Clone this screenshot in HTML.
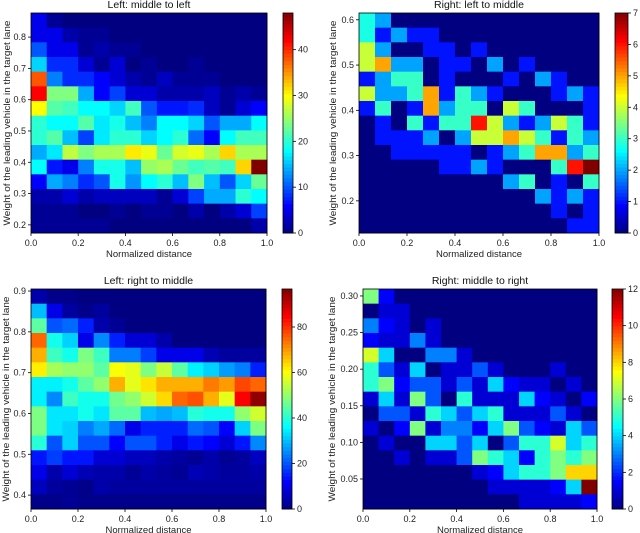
<!DOCTYPE html>
<html><head><meta charset="utf-8"><style>
body{margin:0;background:#fff;}
svg{display:block;font-family:"Liberation Sans",sans-serif;}
</style></head><body>
<svg id="fig" width="640" height="533"></svg>
<script>
const p1Values=[
[5,1,0,0,0,0,0,0,0,0,0,0,0,0,0],
[5,5,2,1,1,0,0,0,0,0,0,0,0,0,0],
[10,5,5,1,2,1,1,0,0,0,0,0,0,0,0],
[16,8,8,4,1,4,0,1,0,0,1,0,0,0,0],
[38,12,8,8,6,4,2,1,3,1,1,1,0,0,0],
[42,24,24,14,6,9,4,4,2,2,2,3,1,2,1],
[30,22,21,18,18,16,21,10,7,7,8,3,1,4,6],
[20,18,18,22,17,19,15,12,18,18,16,10,14,14,18],
[20,22,15,9,17,20,20,16,18,20,11,6,18,21,21],
[14,17,27,24,26,26,31,29,23,28,29,26,32,26,26],
[18,7,5,12,19,19,15,25,26,23,21,22,21,32,48],
[6,14,12,8,10,19,13,18,20,15,24,15,10,16,23],
[2,2,4,2,3,3,3,3,1,4,9,14,14,20,18],
[1,1,1,0,0,1,0,1,1,0,2,0,2,4,9],
[1,1,1,1,1,0,0,0,0,0,0,0,0,0,2]];
const p2Values=[
[2.8,2,0,0,0,0,0,0,0,0,0,0,0,0,0],
[2.8,1,2,1,1,0,0,0,0,0,0,0,0,0,0],
[4,2,0,0,1,1,0,1,0,0,0,0,0,0,0],
[4,5,2,2,0,1,1,0,2,0,1,0,0,0,0],
[1,2,3,3,0,1,0,0,0,1,0,2,1,0,0],
[4,2,2,3,5,1,3,2,1,0,0,0,1,2,1],
[1,3,0,1,5,2,3,3,0,4,3,0,0,0,1],
[0,1,0,3,1,3,3,6,4,2,1,2,4,3,1],
[0,1,1,1,2,0,2,4,4,5,4,3,1,3,2],
[0,0,1,1,1,1,1,0,1,2,3,5,5,2,3],
[0,0,0,0,0,1,1,2,1,0,0,0,3,6,7],
[0,0,0,0,0,0,0,0,0,2,3,0,1,0,3],
[0,0,0,0,0,0,0,0,0,0,0,2,1,2,1],
[0,0,0,0,0,0,0,0,0,0,0,0,1,0,1],
[0,0,0,0,0,0,0,0,0,0,0,0,0,1,1]];
const p3Values=[
[4,1,1,0,0,0,0,0,0,0,0,0,0,0,0],
[30,10,3,1,3,0,0,0,0,0,0,0,0,0,0],
[45,20,22,15,4,2,0,0,0,0,0,0,0,0,0],
[75,38,32,10,25,15,8,8,4,0,0,0,0,0,0],
[68,42,38,48,42,24,24,18,10,10,10,5,3,3,3],
[62,52,50,50,45,60,58,48,55,45,35,32,27,24,15],
[35,35,38,45,50,68,58,63,68,68,68,73,70,78,75],
[35,25,42,38,38,47,50,56,64,75,77,68,58,85,95],
[48,34,34,38,34,45,45,30,28,30,40,38,38,50,56],
[48,34,32,24,28,22,10,15,15,15,22,20,12,32,48],
[40,20,32,20,20,12,20,20,15,10,14,12,8,14,25],
[14,18,14,14,8,8,6,6,4,3,2,4,2,3,6],
[10,4,8,5,4,4,2,4,3,2,5,4,3,3,4],
[6,3,2,1,4,3,3,3,3,3,3,3,3,3,3],
[1,1,2,1,1,1,1,1,1,1,1,1,1,1,1]];
const p4Values=[
[6,1.5,0,0,0,0,0,0,0,0,0,0,0,0,0],
[0,1,1,0,0,0,0,0,0,0,0,0,0,0,0],
[3,1.5,1,0,1,0,0,0,0,0,0,0,0,0,0],
[1.5,1,1,3,1,0,0,0,0,0,0,0,0,0,0],
[7,4,0,0,3,3,1,0,0,0,0,0,0,0,0],
[5,2.5,1,4,0,1,1,2.5,1,0,0,0,1,0,0],
[5,6,1.5,2.5,2.5,1,2.5,1,4,1.5,1,1,0,1,0],
[1,4,1,6,2.5,0,5,1,1,1,4,1.5,1,0,1.5],
[0,2.5,2.5,1,5,4,2.5,4,5,1,1,1,2.5,1,0],
[1,0,1.5,6,1,3,3,1.5,4,6,2.5,1.5,1,4,2.5],
[0,1,0,0,4,4,2.5,4,0,2.5,5,5,7,4,5],
[0,0,1,0,1,1,2.5,6,5,4,1.5,5,6,5,6],
[0,0,0,0,0,0,0,1,1.5,4,5,5,6,8,8],
[0,0,0,0,0,0,0,0,1,1,1,1,1.5,4,12],
[0,0,0,0,0,0,0,0,0,0,1,1,1,1,1.5]];
const xTickLabels=["0.0","0.2","0.4","0.6","0.8","1.0"];
const p1YTicks=[0.2,0.3,0.4,0.5,0.6,0.7,0.8];
const p2YTicks=[0.2,0.3,0.4,0.5,0.6];
const p3YTicks=[0.4,0.5,0.6,0.7,0.8,0.9];
const p4YTicks=[0.05,0.10,0.15,0.20,0.25,0.30];
const p1CTicks=[0,10,20,30,40];
const p2CTicks=[0,1,2,3,4,5,6,7];
const p3CTicks=[0,20,40,60,80];
const p4CTicks=[0,2,4,6,8,10,12];

const NS="http://www.w3.org/2000/svg";
const svg=document.getElementById('fig');
function mk(tag,attrs,parent){const e=document.createElementNS(NS,tag);for(const k in attrs)e.setAttribute(k,attrs[k]);(parent||svg).appendChild(e);return e;}
function cl(v){return Math.max(0,Math.min(1,v));}
function jet(t){const r=cl(1.5-Math.abs(4*t-3)),g=cl(1.5-Math.abs(4*t-2)),b=cl(1.5-Math.abs(4*t-1));return `rgb(${Math.round(r*255)},${Math.round(g*255)},${Math.round(b*255)})`;}

const panels=[
{name:'left-middle-to-left',title:'Left: middle to left',vals:p1Values,yt:p1YTicks,ct:p1CTicks,x0:31,x1:267,y0:13,y1:233,ymin:0.174,ymax:0.877,cmax:48,cx:283,cw:10,dec:1,ty:8,lx:7},
{name:'right-left-to-middle',title:'Right: left to middle',vals:p2Values,yt:p2YTicks,ct:p2CTicks,x0:359,x1:599,y0:13,y1:233,ymin:0.129,ymax:0.615,cmax:7,cx:615,cw:13,dec:1,ty:8,lx:333},
{name:'left-right-to-middle',title:'Left: right to middle',vals:p3Values,yt:p3YTicks,ct:p3CTicks,x0:31,x1:266,y0:289,y1:509,ymin:0.366,ymax:0.905,cmax:96.7,cx:282,cw:10,dec:1,ty:284,lx:6},
{name:'right-middle-to-right',title:'Right: middle to right',vals:p4Values,yt:p4YTicks,ct:p4CTicks,x0:363,x1:597,y0:289,y1:509,ymin:0.009,ymax:0.3095,cmax:12,cx:612,cw:11,dec:2,ty:284,lx:332}];

panels.forEach(p=>{
  const g=mk('g',{});
  
  
  const nr=p.vals.length,nc=p.vals[0].length;
  const cw=(p.x1-p.x0)/nc,ch=(p.y1-p.y0)/nr;
  p.vals.forEach((row,i)=>row.forEach((v,j)=>{
    const r=mk('rect',{x:p.x0+j*cw,y:p.y0+i*ch,width:cw+0.5,height:ch+0.5,fill:jet(Math.min(1,v/p.cmax))},g);
    
    
  }));
  mk('rect',{x:p.x0,y:p.y0,width:p.x1-p.x0,height:p.y1-p.y0,fill:'none',stroke:'#000','stroke-width':0.8},g);
  const t=mk('text',{x:(p.x0+p.x1)/2,y:p.ty,'text-anchor':'middle','font-size':10.5,fill:'#111'},g);
  t.textContent=p.title;
  
  
  xTickLabels.forEach((lab,k)=>{
    const x=p.x0+(p.x1-p.x0)*k/5;
    mk('line',{x1:x,x2:x,y1:p.y1,y2:p.y1+3,stroke:'#000','stroke-width':0.8},g);
    const tx=mk('text',{x:x,y:p.y1+13,'text-anchor':'middle','font-size':9,fill:'#222'},g);
    tx.textContent=lab;
    
    
  });
  const xl=mk('text',{x:(p.x0+p.x1)/2,y:p.y1+24,'text-anchor':'middle','font-size':9.5,fill:'#222'},g);
  xl.textContent='Normalized distance';
  
  
  const ys=v=>p.y1-(v-p.ymin)/(p.ymax-p.ymin)*(p.y1-p.y0);
  p.yt.forEach(v=>{
    const y=ys(v);
    mk('line',{x1:p.x0-3,x2:p.x0,y1:y,y2:y,stroke:'#000','stroke-width':0.8},g);
    const ty=mk('text',{x:p.x0-5,y:y+3,'text-anchor':'end','font-size':9,fill:'#222'},g);
    ty.textContent=v.toFixed(p.dec);
    
    
  });
  const yl=mk('text',{x:0,y:0,'text-anchor':'middle','font-size':9,fill:'#222',textLength:205,lengthAdjust:'spacingAndGlyphs',transform:`translate(${p.lx+3},${(p.y0+p.y1)/2}) rotate(-90)`},g);
  yl.textContent='Weight of the leading vehicle in the target lane';
  
  
  const N=60,hh=(p.y1-p.y0)/N;
  for(let k=0;k<N;k++){
    const r=mk('rect',{x:p.cx,y:p.y1-(k+1)*hh,width:p.cw,height:hh+0.5,fill:jet((k+0.5)/N)},g);
    
    
  }
  mk('rect',{x:p.cx,y:p.y0,width:p.cw,height:p.y1-p.y0,fill:'none',stroke:'#000','stroke-width':0.8},g);
  p.ct.forEach(v=>{
    const y=p.y1-v/p.cmax*(p.y1-p.y0);
    mk('line',{x1:p.cx+p.cw,x2:p.cx+p.cw+3,y1:y,y2:y,stroke:'#000','stroke-width':0.8},g);
    const tc=mk('text',{x:p.cx+p.cw+5,y:y+3,'font-size':9,fill:'#222'},g);
    tc.textContent=String(v);
    
    
  });
});
</script>
</body></html>
